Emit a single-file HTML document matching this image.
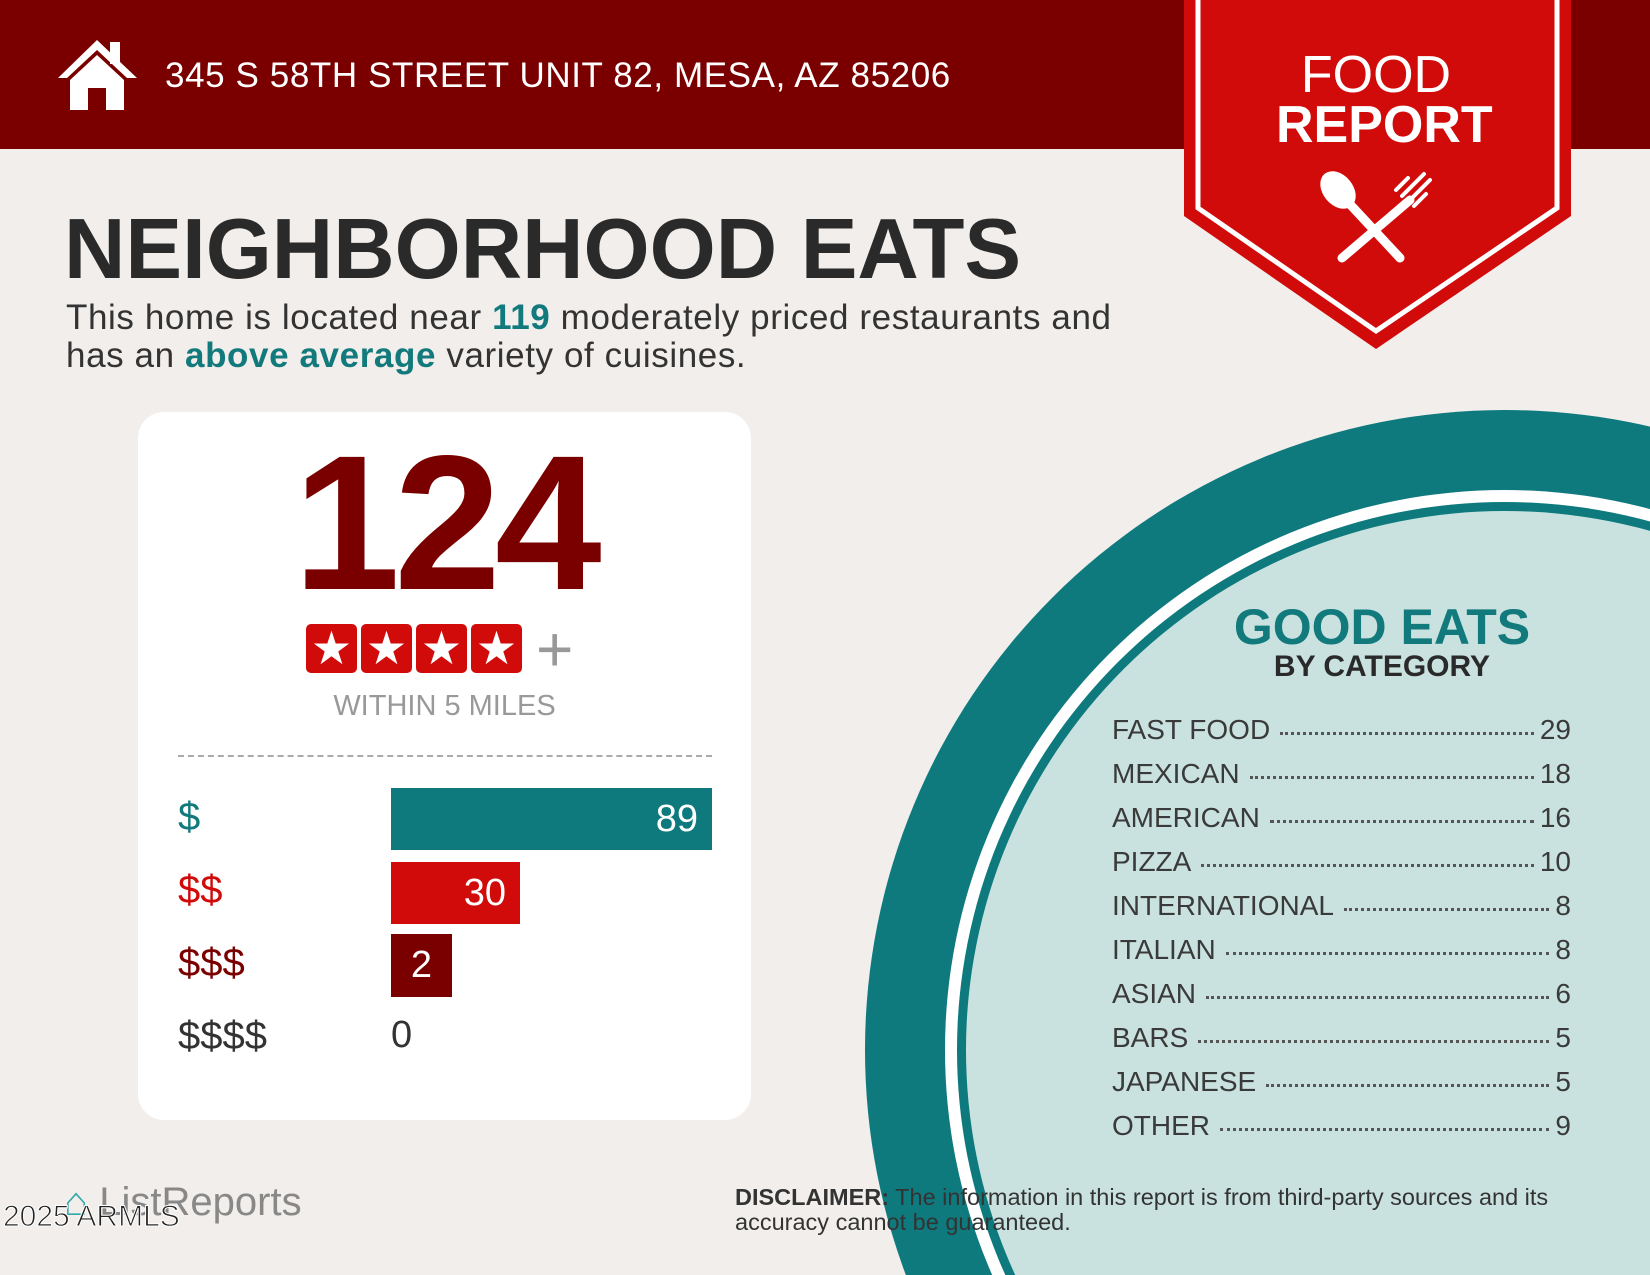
<!DOCTYPE html>
<html><head><meta charset="utf-8"><style>
*{margin:0;padding:0;box-sizing:border-box}
html{overflow:hidden}
body{width:1650px;height:1275px;overflow:hidden;background:#f1eeeb;font-family:"Liberation Sans",sans-serif;position:relative}
.a{position:absolute;white-space:nowrap}
.row{position:absolute;left:1112px;width:459px;font-size:28px;color:#3a3a3a;display:flex;align-items:baseline}
.row .d{flex:1;border-bottom:3px dotted #555;margin:0 6px 0 10px;height:1px;transform:translateY(-4px)}
</style></head><body>
<svg class="a" style="left:0;top:0" width="1650" height="1275">
<rect x="0" y="0" width="1650" height="149" fill="#7a0000"/>
<circle cx="1505" cy="1050" r="640" fill="#0e7a7e"/>
<circle cx="1505" cy="1050" r="560" fill="#ffffff"/>
<circle cx="1505" cy="1050" r="548" fill="#0e7a7e"/>
<circle cx="1505" cy="1050" r="539" fill="#c9e2df"/>
<polygon points="1184,0 1571,0 1571,216 1376,349 1184,216" fill="#d10a0a"/>
<polyline points="1198,0 1198,208 1376,331 1557,208 1557,0" fill="none" stroke="#fff" stroke-width="5"/>
<g stroke="#fff" stroke-linecap="round" fill="none">
<line x1="1346" y1="200" x2="1400" y2="258" stroke-width="9"/>
<line x1="1410" y1="200" x2="1342" y2="258" stroke-width="9"/>
<path d="M1402,196 l22,-22 M1408,202 l22,-22 M1414,206 l12,-12 M1396,190 l12,-12" stroke-width="4"/>
</g>
<ellipse cx="1338" cy="190" rx="15" ry="21" fill="#fff" transform="rotate(-40 1338 190)"/>
<path d="M58,78 L97,40 L137,78 L127,78 L97,50 L67,78 Z" fill="#fff"/>
<rect x="110" y="42" width="10" height="22" fill="#fff"/>
<path d="M70,80 L97,55 L124,80 L124,110 L106,110 L106,88 L88,88 L88,110 L70,110 Z" fill="#fff"/>
</svg>
<div class="a" style="left:165px;top:56px;font-size:35px;letter-spacing:0.6px;color:#fff">345 S 58TH STREET UNIT 82, MESA, AZ 85206</div>
<div class="a" style="left:1276px;top:50px;width:200px;text-align:center;font-size:52px;line-height:50px;color:#fff">FOOD<br><b>REPORT</b></div>
<div class="a" style="left:64px;top:201px;font-size:85px;font-weight:bold;color:#2a2a2a">NEIGHBORHOOD EATS</div>
<div class="a" style="left:66px;top:299px;font-size:35px;letter-spacing:0.6px;line-height:38px;color:#333">This home is located near <b style="color:#127a7c">119</b> moderately priced restaurants and<br>has an <b style="color:#127a7c">above average</b> variety of cuisines.</div>
<div class="a" style="left:138px;top:412px;width:613px;height:708px;background:#fff;border-radius:26px"></div>
<div class="a" style="left:138px;top:428px;width:613px;text-align:center;font-size:192px;font-weight:bold;color:#7a0000;letter-spacing:-6px;line-height:190px">124</div>
<div class="a" style="left:306px;top:624px;display:flex;gap:4px">
<div style="width:51px;height:49px;background:#d10a0a;border-radius:5px;color:#fff;font-size:46px;text-align:center;line-height:49px">★</div>
<div style="width:51px;height:49px;background:#d10a0a;border-radius:5px;color:#fff;font-size:46px;text-align:center;line-height:49px">★</div>
<div style="width:51px;height:49px;background:#d10a0a;border-radius:5px;color:#fff;font-size:46px;text-align:center;line-height:49px">★</div>
<div style="width:51px;height:49px;background:#d10a0a;border-radius:5px;color:#fff;font-size:46px;text-align:center;line-height:49px">★</div>
</div>
<div class="a" style="left:536px;top:612px;font-size:64px;color:#999">+</div>
<div class="a" style="left:138px;top:690px;width:613px;text-align:center;font-size:29px;color:#999">WITHIN 5 MILES</div>
<div class="a" style="left:178px;top:755px;width:534px;border-top:2px dashed #aaa"></div>
<div class="a" style="left:178px;top:795px;font-size:40px;color:#127a7c">$</div>
<div class="a" style="left:178px;top:868px;font-size:40px;color:#d10a0a">$$</div>
<div class="a" style="left:178px;top:941px;font-size:40px;color:#7a0000">$$$</div>
<div class="a" style="left:178px;top:1014px;font-size:40px;color:#333">$$$$</div>
<div class="a" style="left:391px;top:788px;width:321px;height:62px;background:#0e7a7e;color:#fff;font-size:38px;text-align:right;padding-right:14px;line-height:62px">89</div>
<div class="a" style="left:391px;top:862px;width:129px;height:62px;background:#d10a0a;color:#fff;font-size:38px;text-align:right;padding-right:14px;line-height:62px">30</div>
<div class="a" style="left:391px;top:934px;width:61px;height:63px;background:#7a0000;color:#fff;font-size:38px;text-align:center;line-height:63px">2</div>
<div class="a" style="left:391px;top:1014px;font-size:38px;color:#333">0</div>
<div class="a" style="left:1182px;top:598px;width:400px;text-align:center;font-size:50px;font-weight:bold;color:#127a7c">GOOD EATS</div>
<div class="a" style="left:1182px;top:650px;width:400px;text-align:center;font-size:30px;font-weight:bold;color:#2a2a2a">BY CATEGORY</div>
<div class="row" style="top:714px"><span>FAST FOOD</span><span class="d"></span><span>29</span></div>
<div class="row" style="top:758px"><span>MEXICAN</span><span class="d"></span><span>18</span></div>
<div class="row" style="top:802px"><span>AMERICAN</span><span class="d"></span><span>16</span></div>
<div class="row" style="top:846px"><span>PIZZA</span><span class="d"></span><span>10</span></div>
<div class="row" style="top:890px"><span>INTERNATIONAL</span><span class="d"></span><span>8</span></div>
<div class="row" style="top:934px"><span>ITALIAN</span><span class="d"></span><span>8</span></div>
<div class="row" style="top:978px"><span>ASIAN</span><span class="d"></span><span>6</span></div>
<div class="row" style="top:1022px"><span>BARS</span><span class="d"></span><span>5</span></div>
<div class="row" style="top:1066px"><span>JAPANESE</span><span class="d"></span><span>5</span></div>
<div class="row" style="top:1110px"><span>OTHER</span><span class="d"></span><span>9</span></div>
<div class="a" style="left:735px;top:1185px;font-size:23.5px;line-height:25px;color:#333"><b>DISCLAIMER:</b> The information in this report is from third-party sources and its<br>accuracy cannot be guaranteed.</div>
<div class="a" style="left:64px;top:1180px;font-size:40px;color:#888"><span style="color:#3aa">⌂</span> ListReports</div>
<div class="a" style="left:3px;top:1200px;font-size:30px;color:#222;-webkit-text-stroke:1px #fff">2025 ARMLS</div>
</body></html>
